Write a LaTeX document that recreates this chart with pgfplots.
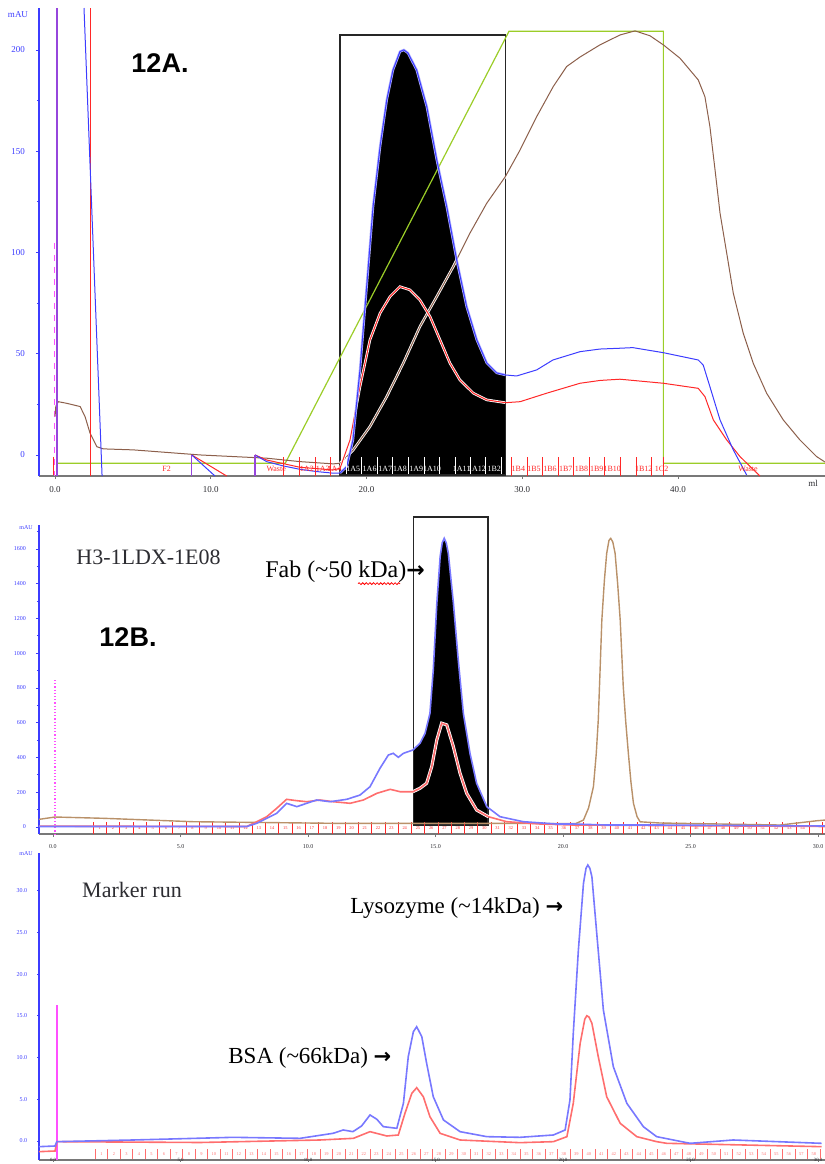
\documentclass[border=0pt]{standalone}
\usepackage{fontspec}
\setmainfont{Liberation Serif}
\newfontfamily\sansb{Liberation Sans}
\newfontfamily\djv{DejaVu Sans}
\usepackage{pgfplots}
\pgfplotsset{compat=1.18}
\usetikzlibrary{decorations.pathmorphing}

\definecolor{cblue}{RGB}{60,60,255}
\definecolor{cred}{RGB}{255,40,40}
\definecolor{cbrown}{RGB}{140,95,75}
\definecolor{cgreen}{RGB}{155,205,40}
\definecolor{cpurple}{RGB}{150,70,220}
\definecolor{cpink}{RGB}{255,80,255}
\definecolor{lblue}{RGB}{120,120,255}
\definecolor{lred}{RGB}{255,110,110}
\definecolor{ltan}{RGB}{185,145,105}
\definecolor{axgray}{RGB}{120,120,120}
\definecolor{txtgray}{RGB}{45,45,50}

\newcommand\fracfont{\fontsize{4}{4}\selectfont}
\newcommand\tinyfont{\fontsize{2.2}{2.2}\selectfont}

\pgfplotsset{
 panel/.style={
  scale only axis, width=393pt,
  axis x line*=bottom, axis y line*=left,
  x axis line style={axgray,-,line width=0.6pt},
  y axis line style={cblue,-,line width=0.7pt},
  tick align=outside,
  major tick length=1.5pt, minor tick length=1pt,
  ytick style={cblue, line width=0.4pt},
  xtick style={axgray, line width=0.4pt},
  clip=false,
  yticklabel style={text=cblue},
  xticklabel style={text=txtgray},
 },
}

\begin{document}
\begin{tikzpicture}
\useasboundingbox (0,0) rectangle (412.5pt,-582pt);
\clip (0,0) rectangle (412.5pt,-582pt);

% ================= PANEL A =================
\begin{axis}[panel, at={(19.5pt,-238pt)}, anchor=south west, height=234pt,
  xmin=-1.03, xmax=49.44, ymin=-10.4, ymax=220.7,
  xtick={0,10,20,30,40}, xticklabels={0.0,10.0,20.0,30.0,40.0},
  ytick={0,50,100,150,200}, yticklabels={0,50,100,150,200},
  minor ytick={25,75,125,175},
  tick label style={font=\fontsize{4.5}{5}\selectfont},
  yticklabel style={xshift=-2pt},
]
\addplot[fill=black, draw=none] coordinates {
(18.30,-9.88) (18.30,-8.9) (18.73,-5.8) (19.13,7.4) (19.58,42.0) (20.01,83.1)
(20.42,122.6) (20.87,152.2) (21.30,175.3) (21.70,190.1) (22.15,199.2) (22.40,200.0)
(22.66,198.5) (23.22,190.1) (23.87,172.0) (24.51,145.7) (25.15,122.6) (25.79,96.3)
(26.43,73.2) (27.08,56.8) (27.72,45.4) (28.36,40.5) (28.91,39.5) (28.91,-9.88)} -- cycle;
\draw[black!85, line width=0.6pt] (axis cs:18.30,-9.88) rectangle (axis cs:28.91,207.4);

\addplot[cpink, dashed, line width=0.5pt] coordinates {(-0.05,104.7) (-0.05,-10.4)};

\addplot[cgreen, line width=0.6pt] coordinates {
(0.13,-4.1) (14.78,-4.1) (29.15,209.2) (39.06,209.2) (39.06,-4.1) (49.44,-4.1)};

\addplot[white, line width=1.3pt] table {
x y
18.30 -4.1
19.15 2.5
20.22 14.0
21.30 28.8
22.36 45.3
23.43 63.4
24.51 78.2
25.57 93.0
26.64 109.5
27.72 124.3
28.91 137.4
};
\addplot[cbrown, line width=0.5pt] table {
x y
0.00 19.0
0.05 24.0
0.21 26.3
0.75 25.5
1.61 23.9
1.93 18.9
2.25 10.7
2.68 4.1
3.10 3.0
5.03 2.5
9.31 0.0
13.59 -1.6
15.73 -3.3
17.87 -4.4
18.30 -4.1
19.15 2.5
20.22 14.0
21.30 28.8
22.36 45.3
23.43 63.4
24.51 78.2
25.57 93.0
26.64 109.5
27.72 124.3
28.91 137.4
29.86 150.6
30.93 167.1
31.99 181.9
32.85 191.8
33.71 196.5
34.99 202.5
36.28 207.4
37.24 209.4
38.20 207.0
39.06 202.5
40.13 195.9
41.30 185.2
41.73 176.9
42.05 162.1
42.38 140.7
42.70 119.4
43.13 99.6
43.55 79.9
44.19 60.1
44.83 45.3
45.69 30.5
46.76 17.3
47.83 7.4
48.90 -0.8
49.44 -3.5
};

\addplot[cred, line width=0.5pt] coordinates {(-0.11,-0.8) (-0.11,-9.9)};
\addplot[cred, line width=0.5pt] coordinates {(2.25,220.7) (2.25,-10.4)};
\addplot[cred, line width=0.5pt] coordinates {(8.78,0) (11.02,-10.4)};
\addplot[white, line width=1.3pt] table {
x y
18.30 -6.6
18.94 7.4
19.58 33.7
20.22 56.8
20.87 70.0
21.51 78.2
22.15 83.1
22.79 81.5
23.43 76.5
24.08 68.3
24.72 56.8
25.36 45.3
26.00 37.0
26.86 30.5
27.72 27.2
28.91 25.8
};
\addplot[cred, line width=0.5pt] table {
x y
12.84 0
13.59 -2.5
15.73 -6.1
17.86 -7.4
18.30 -6.6
18.94 7.4
19.58 33.7
20.22 56.8
20.87 70.0
21.51 78.2
22.15 83.1
22.79 81.5
23.43 76.5
24.08 68.3
24.72 56.8
25.36 45.3
26.00 37.0
26.86 30.5
27.72 27.2
28.91 25.8
29.86 26.3
31.57 30.5
33.71 35.4
35.00 36.8
36.28 37.4
39.06 35.4
41.30 32.9
41.73 28.8
42.27 17.3
43.13 7.4
43.98 -0.8
45.26 -10.4
};
\addplot[cblue, line width=0.5pt] coordinates {(1.86,220.7) (3.02,-10.4)};
\addplot[cblue, line width=0.5pt] coordinates {(8.78,0) (10.27,-10.4)};
\addplot[cblue!40, line width=1.2pt] table {
x y
18.30 -8.9
18.73 -5.8
19.13 7.4
19.58 42.0
20.01 83.1
20.42 122.6
20.87 152.2
21.30 175.3
21.70 190.1
22.15 199.2
22.40 200.0
22.66 198.5
23.22 190.1
23.87 172.0
24.51 145.7
25.15 122.6
25.79 96.3
26.43 73.2
27.08 56.8
27.72 45.4
28.36 40.5
28.91 39.5
};
\addplot[cblue, line width=0.5pt] table {
x y
12.84 0
13.59 -3.3
14.64 -5.4
15.73 -7.1
16.80 -8.2
17.86 -9.0
18.30 -8.9
18.73 -5.8
19.13 7.4
19.58 42.0
20.01 83.1
20.42 122.6
20.87 152.2
21.30 175.3
21.70 190.1
22.15 199.2
22.40 200.0
22.66 198.5
23.22 190.1
23.87 172.0
24.51 145.7
25.15 122.6
25.79 96.3
26.43 73.2
27.08 56.8
27.72 45.4
28.36 40.5
28.91 39.5
29.64 39.0
30.93 42.0
31.97 46.9
33.71 51.0
34.99 52.3
36.28 52.7
37.10 53.0
39.06 50.5
41.30 46.9
41.62 44.4
42.05 33.7
42.70 17.3
43.55 2.5
44.41 -9.9
};
\addplot[cpurple, line width=0.6pt] coordinates {(0.13,-10.4) (0.13,220.7)};
\addplot[cpurple, line width=0.6pt] coordinates {(8.78,-10.4) (8.78,0)};
\addplot[cpurple, line width=0.6pt] coordinates {(12.84,-10.4) (12.84,0)};

\foreach \xx in {14.65,15.67,16.68,17.70,29.28,30.3,31.27,32.3,33.26,34.28,35.25,36.28,37.3,38.27,39.06}{
  \edef\tmp{\noexpand\draw[cred, line width=0.3pt] (axis cs:\xx,-10.2) -- (axis cs:\xx,-1);}\tmp}
\foreach \xx in {18.68,19.69,20.69,21.68,22.68,23.69,24.67,25.68,26.64,27.65,28.68}{
  \edef\tmp{\noexpand\draw[white, line width=0.3pt] (axis cs:\xx,-9.5) -- (axis cs:\xx,-1);}\tmp}
\foreach \xx/\lab in {7.17/F2,14.2/Waste,16.17/1A2,17.19/1A3,17.95/1A4,29.75/1B4,30.75/1B5,31.78/1B6,32.79/1B7,33.8/1B8,34.78/1B9,35.78/1B10,37.8/1B12,38.95/1C2,44.5/Waste}{
  \edef\tmp{\noexpand\node[cred, font=\noexpand\fracfont, inner sep=0pt] at (axis cs:\xx,-7.0) {\lab};}\tmp}
\foreach \xx/\lab in {19.15/1A5,20.2/1A6,21.2/1A7,22.15/1A8,23.2/1A9,24.2/1A10,26.1/1A11,27.1/1A12,28.2/1B2}{
  \edef\tmp{\noexpand\node[white, font=\noexpand\fracfont, inner sep=0pt] at (axis cs:\xx,-7.0) {\lab};}\tmp}
\end{axis}

% ================= PANEL B =================
\begin{axis}[panel, at={(19.5pt,-417pt)}, anchor=south west, height=154.5pt,
  xmin=-0.549, xmax=30.27, ymin=-40.3, ymax=1738,
  xtick={0,5,10,15,20,25,30}, xticklabels={0.0,5.0,10.0,15.0,20.0,25.0,30.0},
  ytick={0,200,400,600,800,1000,1200,1400,1600},
  yticklabels={0,200,400,600,800,1000,1200,1400,1600},
  minor ytick={100,300,500,700,900,1100,1300,1500,1700},
  tick label style={font=\fontsize{3}{3.5}\selectfont},
  yticklabel style={xshift=-1.5pt},
]
\addplot[fill=black, draw=none] coordinates {
(14.12,11.5) (14.12,443.1) (14.39,481.6) (14.59,539.2) (14.78,654.2) (14.91,903.6)
(15.05,1287.4) (15.18,1556.2) (15.26,1635) (15.34,1661.4) (15.42,1635) (15.50,1575.0)
(15.70,1287.4) (15.89,961.1) (16.09,654.2) (16.35,424.2) (16.61,251.8) (17.01,116.8)
(17.06,110) (17.06,11.5)} -- cycle;
\draw[black!85, line width=0.6pt] (axis cs:14.12,11.5) rectangle (axis cs:17.06,1784);
\addplot[cpink, densely dotted, line width=0.6pt] coordinates {(0.08,846) (0.08,-40.3)};

\foreach \xx in {1.57,2.09,...,30.2}{
  \edef\tmp{\noexpand\draw[cred, line width=0.25pt] (axis cs:\xx,-40) -- (axis cs:\xx,30);}\tmp}
\foreach \xx [count=\i] in {1.83,2.35,...,29.9}{
  \edef\tmp{\noexpand\node[cred, font=\noexpand\tinyfont, inner sep=0pt] at (axis cs:\xx,-8) {\i};}\tmp}

\addplot[ltan, line width=0.7pt] table {
x y
-0.55 44
0.08 57.5
2.0 50
5.49 30.5
10.98 21.3
14.12 21.3
20.50 20
20.80 40
21.00 110
21.19 232
21.30 420
21.38 616
21.45 900
21.52 1191
21.62 1420
21.71 1575
21.80 1650
21.87 1661
21.95 1640
22.04 1575
22.14 1400
22.24 1191
22.36 807
22.46 600
22.56 424
22.66 260
22.76 136
22.90 60
23.02 30
23.80 23
28.51 11.5
29.95 36
30.27 40
};
\addplot[white, line width=1.6pt] table {
x y
14.11 203.1
14.39 222.7
14.65 251.8
14.85 347.7
15.05 501.4
15.24 597.5
15.44 587.7
15.70 461.4
15.96 309.2
16.22 193.9
16.61 97.8
17.07 59.3
};
\addplot[lred, line width=0.8pt] table {
x y
-0.55 5
7.60 3
7.99 30.5
8.38 59.3
8.77 107.6
9.16 159.4
9.56 151.4
9.95 145.6
10.47 155.4
10.99 145.6
11.65 136.4
12.17 155.4
12.70 193.9
13.22 216.9
13.61 203.1
14.11 203.1
14.39 222.7
14.65 251.8
14.85 347.7
15.05 501.4
15.24 597.5
15.44 587.7
15.70 461.4
15.96 309.2
16.22 193.9
16.61 97.8
17.07 59.3
17.79 30.5
19.10 17.3
20.40 11.5
30.27 3
};
\addplot[lblue, line width=0.8pt] table {
x y
-0.55 3
7.60 3
7.99 21.3
8.38 50.1
8.77 78.8
9.16 136.4
9.56 117.1
9.95 136.4
10.34 155.4
10.86 145.6
11.52 159.4
12.04 184.1
12.43 231.9
12.82 337.6
13.15 414.4
13.34 424.2
13.54 401.2
13.74 424.2
14.11 443.1
14.39 481.6
14.59 539.2
14.78 654.2
14.91 903.6
15.05 1287.4
15.18 1556.2
15.26 1635
15.34 1661.4
15.42 1635
15.50 1575.0
15.70 1287.4
15.89 961.1
16.09 654.2
16.35 424.2
16.61 251.8
17.01 116.8
17.53 59.3
18.44 30.5
19.75 17.3
20.40 17.3
21.71 11.5
23.67 11.5
30.27 5.8
};
\end{axis}

% ================= PANEL C =================
\begin{axis}[panel, at={(19.5pt,-580pt)}, anchor=south west, height=153.5pt,
  xmin=-0.549, xmax=30.27, ymin=-2.28, ymax=34.53,
  major tick length=0.9pt,
  xtick={0,5,10,15,20,25,30}, xticklabels={0.0,5.0,10.0,15.0,20.0,25.0,30.0},
  ytick={0,5,10,15,20,25,30}, yticklabels={0.0,5.0,10.0,15.0,20.0,25.0,30.0},
  tick label style={font=\fontsize{3}{3.5}\selectfont},
  yticklabel style={xshift=-1.5pt},
  xticklabel style={font=\fontsize{2.4}{2.4}\selectfont, inner sep=0pt},
  xticklabel shift={-2.2pt},
]
\addplot[cpink, line width=0.6pt] coordinates {(0.157,16.3) (0.157,-2.28)};
\foreach \xx in {1.65,2.14,...,30.2}{
  \edef\tmp{\noexpand\draw[lred, line width=0.25pt] (axis cs:\xx,-2.2) -- (axis cs:\xx,-0.9);}\tmp}
\foreach \xx [count=\i] in {1.9,2.39,...,29.9}{
  \edef\tmp{\noexpand\node[lred, font=\noexpand\tinyfont, inner sep=0pt] at (axis cs:\xx,-1.6) {\i};}\tmp}
\addplot[lred, line width=0.8pt] table {
x y
-0.55 -1.28
0.08 -1.2
0.15 -0.08
5.76 -0.18
10.47 0.12
11.78 0.32
12.43 1.12
13.09 0.60
13.54 0.72
13.80 3.32
14.07 5.72
14.26 6.39
14.52 5.31
14.78 2.91
15.18 0.92
15.96 0.12
18.31 -0.20
19.62 -0.08
20.15 0.52
20.40 4.52
20.67 11.71
20.85 14.60
20.93 15.02
21.02 14.85
21.13 14.11
21.38 10.11
21.71 5.31
22.24 2.12
22.89 0.52
23.67 -0.08
24.07 -0.28
30.14 -0.68
};
\addplot[lblue, line width=0.8pt] table {
x y
-0.55 -0.68
0.08 -0.60
0.15 -0.08
3.14 0.12
7.06 0.44
9.69 0.32
10.98 0.92
11.38 1.32
11.76 1.12
12.10 1.80
12.43 3.12
12.70 2.60
12.95 1.72
13.48 1.52
13.74 4.52
13.93 10.11
14.13 13.11
14.26 13.70
14.46 12.51
14.65 9.32
14.91 5.31
15.31 2.52
15.96 1.12
17.01 0.52
18.31 0.44
19.62 0.72
20.08 1.32
20.27 4.92
20.40 12.91
20.60 22.90
20.80 30.90
20.90 32.70
20.97 33.09
21.05 32.70
21.13 31.69
21.32 24.90
21.58 15.71
21.97 8.91
22.50 4.52
23.15 1.71
23.67 0.52
24.98 -0.28
26.67 0.12
30.14 -0.28
};
\end{axis}

% ================= TEXT =================
\node[cblue, font=\fontsize{4.5}{5}\selectfont] at (9pt,-7.5pt) {mAU};
\node[txtgray, font=\fontsize{4.5}{5}\selectfont] at (406.5pt,-241.5pt) {ml};
\node[cblue, font=\fontsize{3}{3.5}\selectfont] at (13pt,-264pt) {mAU};
\node[cblue, font=\fontsize{3}{3.5}\selectfont] at (13pt,-427pt) {mAU};

\node[font=\sansb\bfseries\fontsize{13.5}{14}\selectfont] at (80pt,-31.5pt) {12A.};
\node[font=\sansb\bfseries\fontsize{13.5}{14}\selectfont] at (64pt,-318.5pt) {12B.};
\node[txtgray, font=\fontsize{11}{12}\selectfont] at (74.25pt,-278.5pt) {H3-1LDX-1E08};
\node[anchor=west, inner sep=0pt, font=\fontsize{12}{13}\selectfont] at (132.5pt,-286pt) {Fab (\textasciitilde50 kDa){\djv\bfseries\fontsize{11}{12}\selectfont →}};
\draw[red, line width=0.4pt, decorate, decoration={snake, amplitude=0.45pt, segment length=1.8pt}] (179pt,-291.8pt) -- (200pt,-291.8pt);
\node[txtgray, font=\fontsize{11}{12}\selectfont] at (66pt,-445pt) {Marker run};
\node[anchor=west, inner sep=0pt, font=\fontsize{11.5}{12}\selectfont] at (175pt,-454pt) {Lysozyme (\textasciitilde14kDa) {\djv\bfseries\fontsize{10.5}{12}\selectfont →}};
\node[anchor=west, inner sep=0pt, font=\fontsize{11.5}{12}\selectfont] at (114pt,-529pt) {BSA (\textasciitilde66kDa) {\djv\bfseries\fontsize{10.5}{12}\selectfont →}};
\end{tikzpicture}
\end{document}
